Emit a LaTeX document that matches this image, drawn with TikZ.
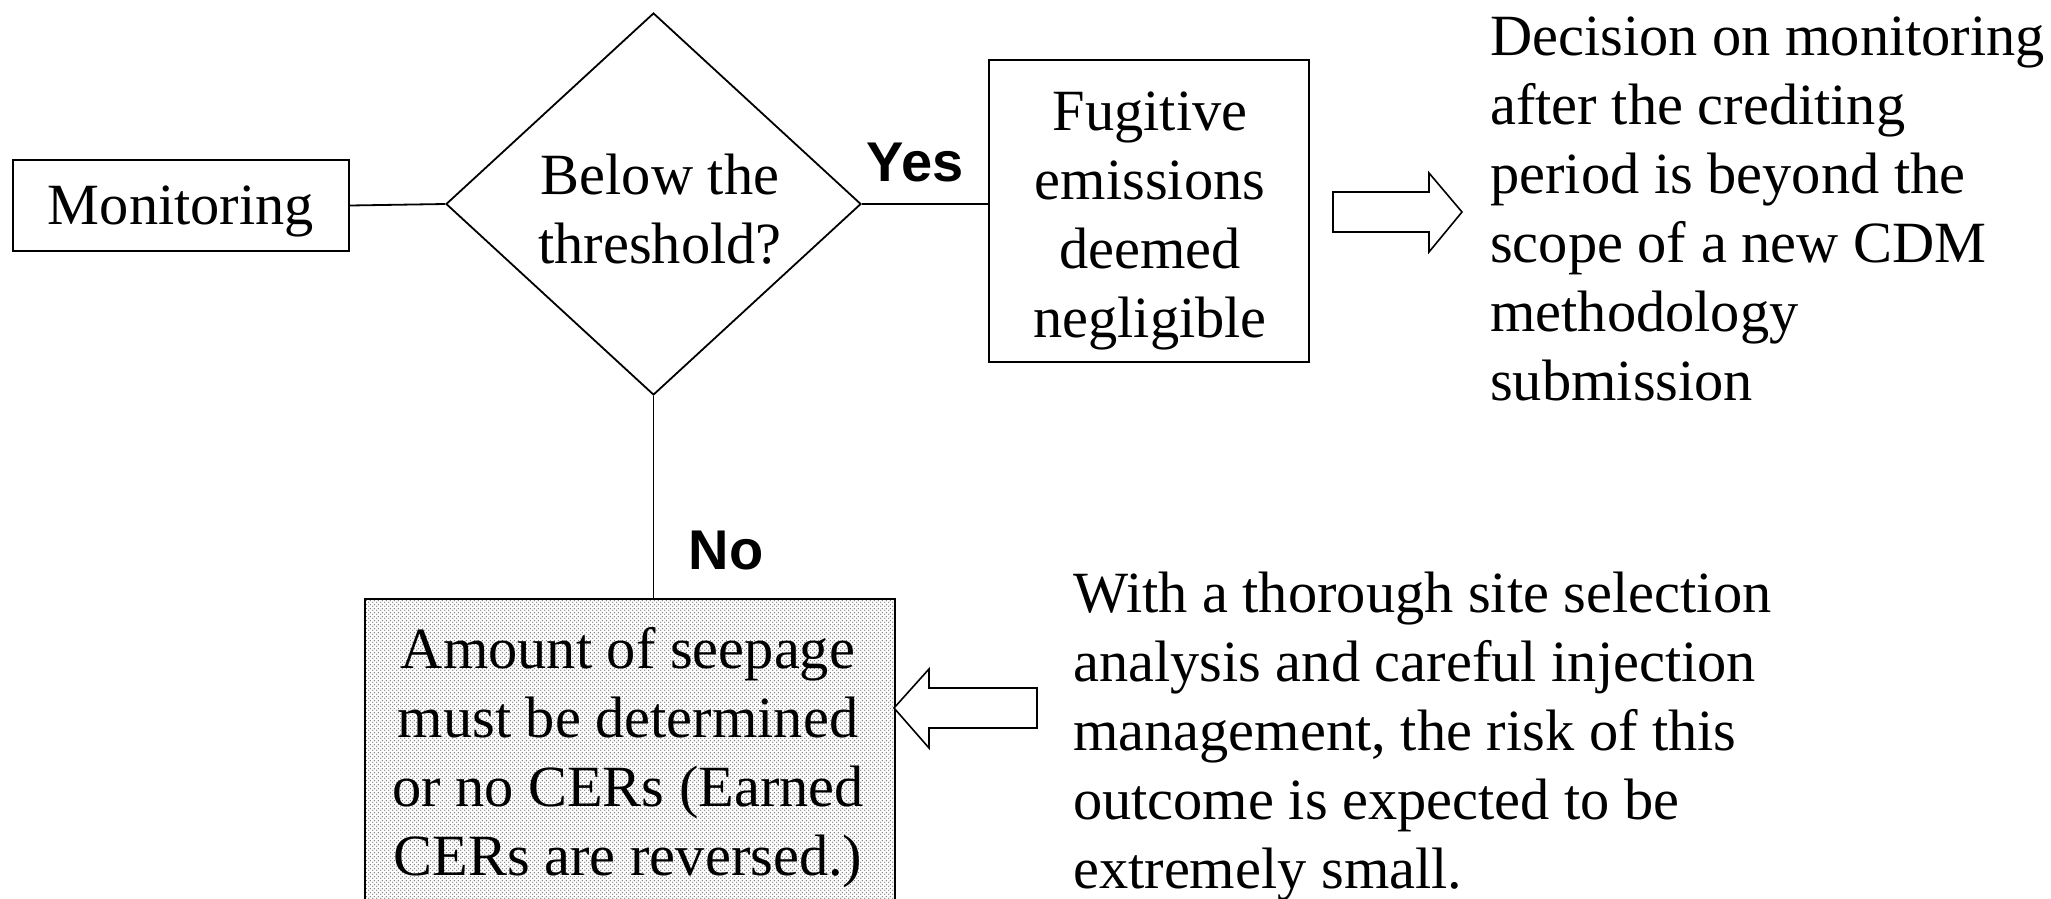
\documentclass[tikz,border=0pt]{standalone}
\usepackage{fontspec}
\setmainfont{Liberation Serif}
\newfontfamily\labelsans{Liberation Sans}
\usetikzlibrary{shapes.geometric,patterns.meta}
\pgfdeclarepattern{name=stipple, type=uncolored,
  bottom left={\pgfpoint{0pt}{0pt}}, top right={\pgfpoint{4pt}{4pt}},
  tile size={\pgfpoint{4pt}{4pt}},
  code={\pgfpathcircle{\pgfpoint{1pt}{1pt}}{0.85pt}\pgfpathcircle{\pgfpoint{3pt}{3pt}}{0.85pt}\pgfusepath{fill}}}
\tikzset{
  txt/.style={font=\fontsize{58.4}{69}\selectfont, inner sep=0pt},
  boxnode/.style={draw, line width=2pt, inner sep=0pt},
  conn/.style={line width=1.8pt},
  yn/.style={font=\labelsans\bfseries\fontsize{56}{66}\selectfont, inner sep=0pt},
  blockarrow/.style={draw, line width=1.6pt, fill=white, line join=miter}
}
\begin{document}
\begin{tikzpicture}[x=1pt,y=-1pt]
\useasboundingbox (0,0) rectangle (2051,899);
% Monitoring box
\node[boxnode, minimum width=336pt, minimum height=91pt] (mon) at (181,205.5) {};
\node[txt] (montext) at (181,211) {Monitoring};
% decision diamond
\node[draw, diamond, line width=1.8pt, minimum width=415pt, minimum height=382pt, inner sep=0pt] (dia) at (653.5,204) {};
\node[txt, align=center] (diatext) at (660,209) {Below the\\threshold?};
% Fugitive box
\node[boxnode, minimum width=320pt, minimum height=302pt] (fug) at (1149,211) {};
\node[txt, align=center] (fugtext) at (1150,221) {Fugitive\\emissions\\deemed\\negligible};
% seepage box
\node[draw, line width=2pt, preaction={fill=white}, pattern=stipple, pattern color=black!55, minimum width=530pt, minimum height=320pt, inner sep=0pt] (seep) at (630,759) {};
\node[txt, align=center] (seeptext) at (628,758) {Amount of seepage\\must be determined\\or no CERs (Earned\\CERs are reversed.)};
% connectors
\draw[conn] (mon.east) -- (dia.west);
\draw[conn] (dia.east) -- (dia.east -| fug.west);
\draw[conn] (dia.south) -- (dia.south |- seep.north);
% labels
\node[yn] (yes) at (915,163) {Yes};
\node[yn] (no) at (726,551) {No};
% right block arrow
\draw[blockarrow] (1333,192) -- (1429,192) -- (1429,173) -- (1462,212) -- (1429,252) -- (1429,232) -- (1333,232) -- cycle;
% left block arrow
\draw[blockarrow] (1037,688) -- (929,688) -- (929,669) -- (894,708) -- (929,748) -- (929,728) -- (1037,728) -- cycle;
% free texts
\node[txt, align=left, anchor=west] (decision) at (1490,209) {Decision on monitoring\\after the crediting\\period is beyond the\\scope of a new CDM\\methodology\\submission};
\node[txt, align=left, anchor=west] (risk) at (1073,737) {With a thorough site selection\\analysis and careful injection\\management, the risk of this\\outcome is expected to be\\extremely small.};
\end{tikzpicture}
\end{document}
